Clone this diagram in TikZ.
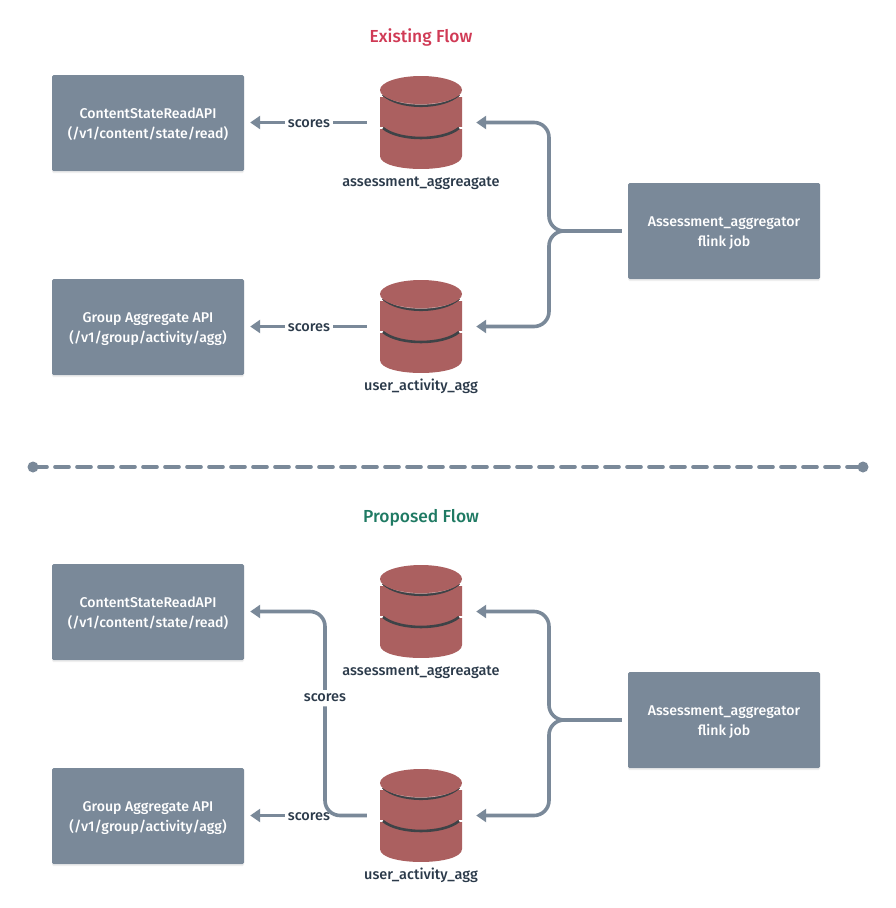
\documentclass[tikz,border=0pt]{standalone}
\usepackage{fontspec}
\setmainfont{Fira Sans Medium}
\usetikzlibrary{arrows.meta,shadows}
\definecolor{slatec}{HTML}{7A8999}
\definecolor{redc}{HTML}{AB6060}
\definecolor{darkc}{HTML}{3E4347}
\definecolor{inkc}{HTML}{2B3A4A}
\newcommand{\boxlines}[2]{\raisebox{-2pt}[0.75em][0.25em]{#1}\\\raisebox{-2pt}[0.75em][0.25em]{#2}}
\tikzset{
  apibox/.style={rectangle,rounded corners=1.5pt,fill=slatec,text=white,minimum width=192pt,minimum height=96pt,align=center,font=\fontsize{14.1}{20}\selectfont,inner sep=0pt,
    drop shadow={opacity=.12,shadow xshift=0pt,shadow yshift=-2pt}},
  dbnode/.style={rectangle,minimum width=82pt,minimum height=93pt,inner sep=0pt},
  lbl/.style={text=inkc,font=\fontsize{14.5}{16}\selectfont,inner sep=0pt},
  title/.style={font=\fontsize{17.4}{20}\selectfont,inner sep=0pt},
  flow/.style={draw=slatec,line width=3.6pt,-{Triangle[length=10pt,width=13pt]}},
  plainflow/.style={draw=slatec,line width=3.6pt},
}
\newcommand{\dbdraw}[2]{% x, ytop
  \begin{scope}[shift={(#1,#2)}]
    \fill[redc] (-41,19) -- (-41,80) .. controls (-41,97.3) and (41,97.3) .. (41,80) -- (41,19) -- cycle;
    \fill[white] (-41.5,16) rectangle (-38,21);
    \fill[white] (41.5,16) rectangle (38,21);
    \fill[white] (-41.5,50.5) rectangle (-38,53);
    \fill[white] (41.5,50.5) rectangle (38,53);
    \draw[darkc,line width=2.6pt] (-38,18.5) .. controls (-22,33.5) and (22,33.5) .. (38,18.5);
    \draw[darkc,line width=2.6pt] (-38,52) .. controls (-22,65.3) and (22,65.3) .. (38,52);
    \fill[redc!55!white] (0,14.7) ellipse [x radius=38, y radius=14];
    \fill[redc] (0,14) ellipse [x radius=41, y radius=14];
  \end{scope}
}
\begin{document}
\begin{tikzpicture}[x=1pt,y=-1pt]
\useasboundingbox (0,0) rectangle (896,908);
\fill[white] (0,0) rectangle (896,908);

\node[title,text={rgb,255:red,208;green,58;blue,85}] (t1) at (421,37) {Existing Flow};
\node[title,text={rgb,255:red,31;green,122;blue,99}] (t2) at (421,517.5) {Proposed Flow};

\node[apibox] (a1) at (148,123) {\boxlines{ContentStateReadAPI}{(/v1/content/state/read)}};
\node[apibox] (b1) at (148,327) {\boxlines{Group Aggregate API}{(/v1/group/activity/agg)}};
\node[apibox] (j1) at (724,231) {\boxlines{Assessment\_aggregator}{flink job}};
\node[apibox] (a2) at (148,612) {\boxlines{ContentStateReadAPI}{(/v1/content/state/read)}};
\node[apibox] (b2) at (148,816) {\boxlines{Group Aggregate API}{(/v1/group/activity/agg)}};
\node[apibox] (j2) at (724,720) {\boxlines{Assessment\_aggregator}{flink job}};

\node[dbnode] (d1) at (421,122.5) {}; \dbdraw{421}{76}
\node[dbnode] (u1) at (421,326.5) {}; \dbdraw{421}{280}
\node[dbnode] (d2) at (421,611.5) {}; \dbdraw{421}{565}
\node[dbnode] (u2) at (421,815.5) {}; \dbdraw{421}{769}

\node[lbl] (n1) at (421,183) {assessment\_aggreagate};
\node[lbl] (n2) at (421,386.5) {user\_activity\_agg};
\node[lbl] (n3) at (421,672) {assessment\_aggreagate};
\node[lbl] (n4) at (421,875.5) {user\_activity\_agg};

% Existing flow
\node[lbl] (s1) at (309,124) {scores};
\node[lbl] (s2) at (309,328) {scores};
\draw[plainflow,shorten <=13pt,shorten >=3pt] (d1.west) -- (s1.east |- d1.west);
\draw[flow,shorten <=3pt,shorten >=6pt] (s1.west |- d1.west) -- (a1.east |- d1.west);
\draw[plainflow,shorten <=13pt,shorten >=3pt] (u1.west) -- (s2.east |- u1.west);
\draw[flow,shorten <=3pt,shorten >=6pt] (s2.west |- u1.west) -- (b1.east |- u1.west);
\coordinate (busA) at (549,231);
\draw[flow,rounded corners=15pt,shorten <=6pt,shorten >=14pt] (j1.west) -- (busA) -- (busA |- d1.east) -- (d1.east);
\draw[flow,rounded corners=15pt,shorten <=6pt,shorten >=14pt] (j1.west) -- (busA) -- (busA |- u1.east) -- (u1.east);

% Divider
\coordinate (divL) at (33,467);
\coordinate (divR) at (863,467);
\draw[slatec,line width=3.6pt,line cap=round,dash pattern=on 14pt off 8pt] (divL) -- (divR);
\fill[slatec] (divL) circle (5.5);
\fill[slatec] (divR) circle (5.5);

% Proposed flow
\node[lbl] (s3) at (325,698) {scores};
\node[lbl] (s4) at (309,817) {scores};
\coordinate (busC) at (325,815.5);
\draw[plainflow,rounded corners=15pt,shorten <=13pt,shorten >=4pt] (u2.west) -- (busC) -- (s3.south);
\draw[flow,rounded corners=15pt,shorten <=4pt,shorten >=6pt] (s3.north) -- (s3.north |- d2.west) -- (a2.east |- d2.west);
\draw[flow,shorten <=3pt,shorten >=6pt] (s4.west |- u2.west) -- (b2.east |- u2.west);
\coordinate (busB) at (549,720);
\draw[flow,rounded corners=15pt,shorten <=6pt,shorten >=14pt] (j2.west) -- (busB) -- (busB |- d2.east) -- (d2.east);
\draw[flow,rounded corners=15pt,shorten <=6pt,shorten >=14pt] (j2.west) -- (busB) -- (busB |- u2.east) -- (u2.east);
\end{tikzpicture}
\end{document}
